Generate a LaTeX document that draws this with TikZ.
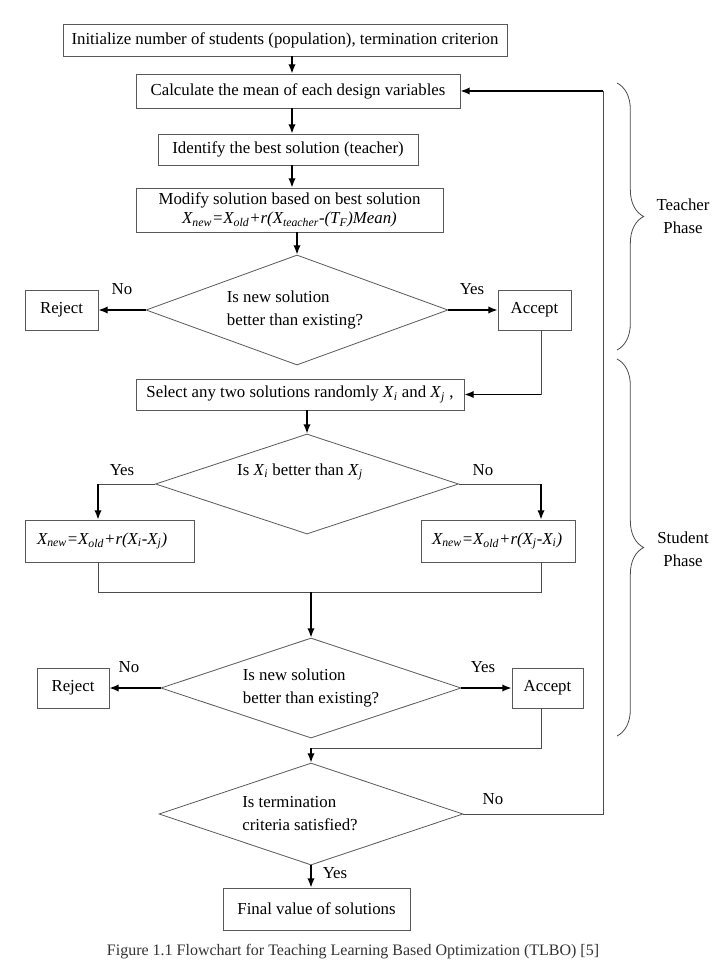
\documentclass[tikz,border=0pt]{standalone}
\usepackage{fontspec}
\setmainfont{Liberation Serif}
\usetikzlibrary{arrows.meta,shapes.geometric,decorations.pathreplacing}
\newcommand\myfs{\fontsize{12.6pt}{14.5pt}\selectfont}
\newcommand\myfsd{\fontsize{12.6pt}{17.25pt}\selectfont}
\newcommand\Xs[1]{\textit{X}\textsubscript{\textit{#1}}}
\begin{document}
\begin{tikzpicture}[x=0.75pt,y=-0.75pt,
 box/.style={draw=black!65, line width=0.6pt, fill=white, inner sep=0pt, font=\myfs, align=center},
 dia/.style={draw=black!65, line width=0.6pt, diamond, inner sep=0pt},
 arr/.style={line width=1.1pt, -{Latex[length=7pt,width=5.5pt]}},
 ln/.style={line width=0.6pt, draw=black!70},
 lab/.style={font=\myfs, inner sep=0pt},
 dtxt/.style={font=\myfsd, inner sep=0pt, align=left},
 brc/.style={draw=black!70, line width=0.6pt, decorate, decoration={brace, amplitude=20pt}},
]
\useasboundingbox (0,0) rectangle (725,962);
\fill[white] (0,0) rectangle (725,962);

\coordinate (colx) at (292,0);
\coordinate (acx) at (541,0);
\coordinate (lx) at (98,0);
\coordinate (fbx) at (603,0);

\node[box, minimum width=333pt, minimum height=24pt] (b1) at (285,40) {Initialize number of students (population), termination criterion};
\node[box, minimum width=243pt, minimum height=25.5pt] (b2) at (298,91) {Calculate the mean of each design variables};
\node[box, minimum width=195pt, minimum height=23.25pt] (b3) at (288,149.5) {Identify the best solution (teacher)};
\node[box, minimum width=230.25pt, minimum height=33pt] (b4) at (289.5,210) {Modify solution based on best solution\\ \textit{X\textsubscript{new}=X\textsubscript{old}+r(X\textsubscript{teacher}-(T\textsubscript{F})Mean)}};

\node[dia, minimum width=226.5pt, minimum height=82.5pt] (d1) at (297,310) {};
\node[dtxt] (d1t) at (295,310) {Is new solution\\better than existing?};
\node[box, minimum width=54.75pt, minimum height=30pt] (r1) at (61.5,310) {Reject};
\node[box, minimum width=54.75pt, minimum height=30pt] (a1) at (534.5,310) {Accept};
\node[lab] (n1) at (122,289) {No};
\node[lab] (y1) at (472,289) {Yes};

\node[box, minimum width=246pt, minimum height=23.25pt] (b5) at (300,394.5) {Select any two solutions randomly \Xs{i} and \Xs{j} ,};
\node[dia, minimum width=227.25pt, minimum height=75pt] (d2) at (307,484) {};
\node[lab] (d2t) at (300,472) {Is \Xs{i} better than \Xs{j}};
\node[lab] (y2) at (122,470) {Yes};
\node[lab] (n2) at (483,470) {No};
\node[box, align=left, text width=108.75pt, inner xsep=9pt, minimum height=31.5pt] (b6) at (109.5,541) {\textit{X\textsubscript{new}=X\textsubscript{old}+r(X\textsubscript{i}-X\textsubscript{j})}};
\node[box, align=left, text width=99pt, inner xsep=8.25pt, minimum height=31.5pt] (b7) at (498,541) {\textit{X\textsubscript{new}=X\textsubscript{old}+r(X\textsubscript{j}-X\textsubscript{i})}};

\coordinate (mL) at (98,592);
\coordinate (mR) at (541,592);
\coordinate (mC) at (311,592);

\node[dia, minimum width=225pt, minimum height=75pt] (d3) at (311,688) {};
\node[dtxt] (d3t) at (311,688) {Is new solution\\better than existing?};
\node[box, minimum width=54pt, minimum height=30pt] (r2) at (73,688) {Reject};
\node[box, minimum width=53.25pt, minimum height=30pt] (a2) at (547.5,688) {Accept};
\node[lab] (n3) at (129,667) {No};
\node[lab] (y3) at (483,667) {Yes};
\coordinate (j4) at (541,748);

\node[dia, minimum width=228pt, minimum height=76.5pt] (d4) at (311,814) {};
\node[dtxt] (d4t) at (300,814) {Is termination\\criteria satisfied?};
\node[lab] (n4) at (493,799) {No};
\node[lab] (y4) at (335,873) {Yes};
\node[box, minimum width=140.25pt, minimum height=31.5pt] (fin) at (316.5,909) {Final value of solutions};

\draw[arr] (b1.south -| colx) -- (b2.north -| colx);
\draw[arr] (b2.south -| colx) -- (b3.north -| colx);
\draw[arr] (b3.south -| colx) -- (b4.north -| colx);
\draw[arr] (b4.south -| d1.north) -- (d1.north);
\draw[arr] (d1.west) -- (r1.east);
\draw[arr] (d1.east) -- (a1.west);
\draw[ln] (a1.south -| acx) -- (acx |- b5.east);
\draw[arr] (acx |- b5.east) -- (b5.east);
\draw[arr] (b5.south -| d2.north) -- (d2.north);
\draw[ln] (d2.west) -- (lx |- d2.west);
\draw[arr] (lx |- d2.west) -- (lx |- b6.north);
\draw[ln] (d2.east) -- (acx |- d2.east);
\draw[arr] (acx |- d2.east) -- (acx |- b7.north);
\draw[ln] (lx |- b6.south) -- (mL) -- (mR) -- (acx |- b7.south);
\draw[arr] (mC) -- (d3.north);
\draw[arr] (d3.west) -- (r2.east);
\draw[arr] (d3.east) -- (a2.west);
\draw[ln] (acx |- a2.south) -- (j4) -- (j4 -| d4.north);
\draw[arr] (j4 -| d4.north) -- (d4.north);
\draw[ln] (d4.east) -- (fbx |- d4.east) -- (fbx |- b2.east);
\draw[arr] (fbx |- b2.east) -- (b2.east);
\draw[arr] (d4.south) -- (d4.south |- fin.north);

\draw[brc] (617,83) -- (617,350);
\draw[brc] (617,359) -- (617,736);
\node[lab, align=center, font=\myfsd] (tp) at (683,216) {Teacher\\Phase};
\node[lab, align=center, font=\myfsd] (sp) at (683,549) {Student\\Phase};

\node[anchor=base, font=\fontsize{12pt}{14pt}\selectfont, text=black!80, inner sep=0pt] (cap) at (353,955) {Figure 1.1 Flowchart for Teaching Learning Based Optimization (TLBO) [5]};
\end{tikzpicture}
\end{document}
